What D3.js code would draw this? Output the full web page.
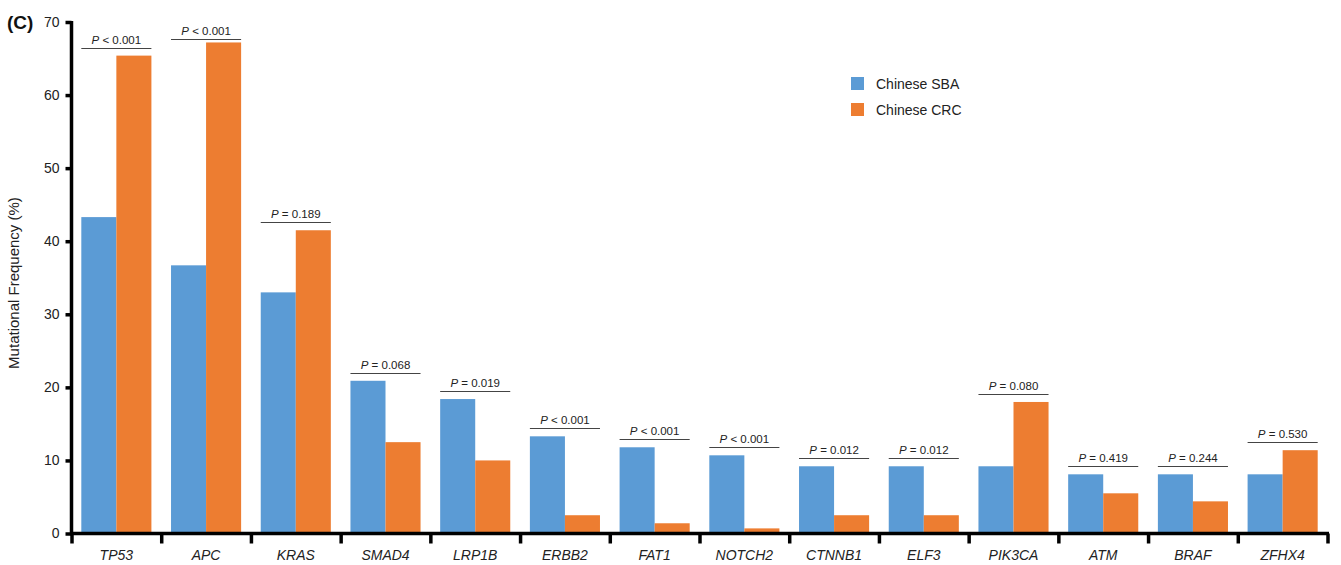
<!DOCTYPE html>
<html><head><meta charset="utf-8">
<script src="https://cdn.jsdelivr.net/npm/d3@7"></script>
<style>body{margin:0;background:#fff}svg{display:block}text{font-family:"Liberation Sans",Arial,sans-serif}</style>
</head><body>
<svg id="c" width="1341" height="565"></svg>
<script>
const genes = ["TP53","APC","KRAS","SMAD4","LRP1B","ERBB2","FAT1","NOTCH2","CTNNB1","ELF3","PIK3CA","ATM","BRAF","ZFHX4"];
const sba = [43.3,36.7,33.0,20.9,18.4,13.3,11.8,10.7,9.2,9.2,9.2,8.1,8.1,8.1];
const crc = [65.4,67.2,41.5,12.5,10.0,2.5,1.4,0.7,2.5,2.5,18.0,5.5,4.4,11.4];
const pOp = ["<","<","=","=","=","<","<","<","=","=","=","=","=","="];
const pVal = ["0.001","0.001","0.189","0.068","0.019","0.001","0.001","0.001","0.012","0.012","0.080","0.419","0.244","0.530"];
const seriesNames = ["Chinese SBA","Chinese CRC"];
const colors = ["#5B9BD5","#ED7D31"];
const yTicks = [0,10,20,30,40,50,60,70];

const svg = d3.select("#c");
const x0 = 71.5, x1 = 1327.5, yb = 533.5, yt = 22;
const x = d3.scaleBand().domain(genes).range([x0,x1]).paddingInner(0).paddingOuter(0);
const xs = d3.scaleBand().domain([0,1]).range([0,x.bandwidth()]).paddingOuter(0.28).paddingInner(0);
const y = d3.scaleLinear().domain([0,70]).range([yb,yt]);

// bars
genes.forEach((g,i)=>{
  [sba[i],crc[i]].forEach((v,k)=>{
    svg.append("rect").attr("x",x(g)+xs(k)).attr("width",xs.bandwidth())
      .attr("y",y(v)).attr("height",y(0)-y(v)).attr("fill",colors[k]);
  });
  const top = Math.max(sba[i],crc[i]);
  const ly = Math.max(y(top)-8, 38.5);
  const lx0 = x(g)+xs(0), lx1 = x(g)+xs(1)+xs.bandwidth();
  svg.append("line").attr("x1",lx0).attr("x2",lx1).attr("y1",Math.round(ly)+0.5).attr("y2",Math.round(ly)+0.5)
    .attr("stroke","#444").attr("stroke-width",1);
  const t = svg.append("text").attr("x",(lx0+lx1)/2).attr("y",Math.round(ly)-4)
    .attr("text-anchor","middle").attr("font-size",11.5).attr("fill","#222");
  t.append("tspan").attr("font-style","italic").text("P");
  t.append("tspan").text(" "+pOp[i]+" "+pVal[i]);
});

// y axis
const ya = svg.append("g").attr("transform",`translate(${x0},0)`)
  .call(d3.axisLeft(y).tickValues(yTicks).tickSize(6).tickPadding(6));
ya.select(".domain").attr("stroke","#000").attr("stroke-width",3.5).attr("d",`M0,${yb+1}V${yt-1}`);
ya.selectAll(".tick line").attr("stroke","#000").attr("stroke-width",3.5);
ya.selectAll(".tick text").attr("font-size",14).attr("fill","#222").attr("font-family","Liberation Sans, Arial, sans-serif");

// x axis
const boundaries = genes.map(g=>x(g)).concat([x1]);
const xa = svg.append("g").attr("transform",`translate(0,${yb})`);
xa.append("line").attr("x1",x0-1.5).attr("x2",x1+1.5).attr("y1",0).attr("y2",0).attr("stroke","#000").attr("stroke-width",3.5);
xa.selectAll(".bt").data(boundaries).enter().append("line")
  .attr("x1",d=>d+0.5).attr("x2",d=>d+0.5).attr("y1",0).attr("y2",10).attr("stroke","#000").attr("stroke-width",3.5);
xa.selectAll(".lbl").data(genes).enter().append("text")
  .attr("x",d=>x(d)+x.bandwidth()/2).attr("y",26).attr("text-anchor","middle")
  .attr("font-size",14).attr("font-style","italic").attr("fill","#222").text(d=>d);

// y label
svg.append("text").attr("transform","translate(19,283) rotate(-90)").attr("text-anchor","middle")
  .attr("font-size",15).attr("fill","#222").text("Mutational Frequency (%)");

// panel label
svg.append("text").attr("x",7).attr("y",29).attr("font-size",19).attr("font-weight","bold").attr("fill","#111").text("(C)");

// legend
seriesNames.forEach((n,k)=>{
  svg.append("rect").attr("x",851).attr("y",77+k*26).attr("width",13).attr("height",13).attr("fill",colors[k]);
  svg.append("text").attr("x",876).attr("y",89+k*26).attr("font-size",14).attr("fill","#222").text(n);
});
</script>
</body></html>
